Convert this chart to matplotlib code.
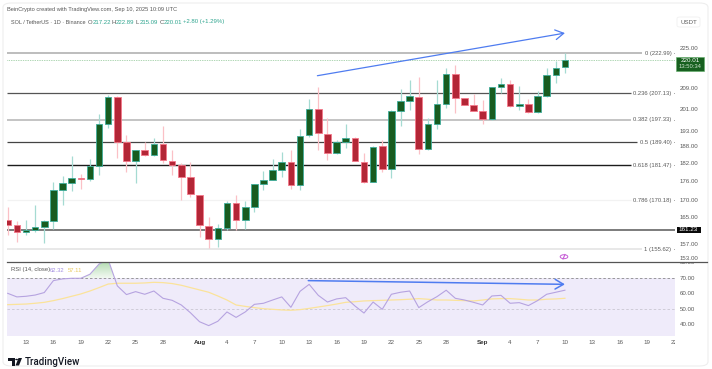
#!/usr/bin/env python3
import numpy as np
import matplotlib
matplotlib.use("Agg")
from matplotlib import pyplot as plt
from matplotlib.patches import Rectangle, FancyBboxPatch, Polygon, Circle
from matplotlib.lines import Line2D
from matplotlib.transforms import Bbox

# daily candles, Jul 11 - Sep 10 2025
opens = [164.3, 162.7, 160.6, 161.1, 162.0, 163.9, 173.5, 175.8, 177.2, 177.0, 181.4,
         195.8, 205.7, 189.3, 182.9, 186.6, 184.8, 188.6, 183.0, 181.5, 177.7,
         171.9, 162.5, 158.4, 161.9, 169.4, 164.1, 168.0, 175.3, 176.7, 179.9, 182.6,
         175.0, 191.7, 201.3, 192.3, 185.6, 189.4, 190.9, 182.7, 176.1, 187.9, 180.2,
         200.6, 204.1, 205.8, 187.1, 195.9, 203.1, 214.4, 205.2, 202.7,
         200.6, 197.4, 209.6, 210.7, 202.4, 203.2, 200.1, 206.2, 214.2, 217.22]
closes = [162.8, 160.6, 161.2, 162.0, 163.8, 173.4, 175.6, 177.2, 177.0, 181.3, 195.8,
          205.6, 189.3, 182.9, 186.6, 184.8, 188.6, 183.2, 181.5, 177.7, 172.2,
          162.6, 158.4, 161.8, 169.4, 164.1, 168.0, 175.3, 176.6, 179.8, 182.6, 175.0,
          191.6, 201.3, 192.4, 185.6, 189.5, 190.9, 182.9, 176.1, 187.8, 180.2, 200.6,
          204.1, 205.9, 187.1, 195.8, 203.0, 214.4, 205.2, 202.7, 200.6,
          197.4, 209.6, 210.8, 202.3, 203.2, 200.1, 206.2, 214.1, 217.0, 220.01]
highs = [168.1, 163.8, 164.1, 168.7, 164.1, 176.0, 178.0, 184.6, 178.6, 183.6, 199.4,
         206.5, 206.0, 191.8, 186.7, 189.5, 190.8, 195.1, 186.6, 182.3, 182.7,
         172.0, 165.1, 162.9, 170.0, 171.8, 170.0, 175.4, 179.6, 183.6, 186.0, 186.6,
         193.9, 204.9, 209.6, 197.8, 190.1, 195.8, 191.0, 185.7, 187.9, 190.1, 200.9,
         208.6, 212.2, 213.5, 197.9, 212.2, 216.8, 218.1, 205.3, 206.9,
         204.6, 209.7, 213.1, 212.2, 210.0, 204.8, 208.1, 217.0, 219.7, 222.89]
lows = [159.7, 157.6, 159.7, 160.6, 157.4, 161.4, 168.7, 173.2, 173.9, 176.4, 178.3,
        194.3, 184.0, 179.3, 175.7, 184.7, 184.7, 182.1, 178.3, 170.3, 171.3,
        159.2, 155.8, 156.3, 161.1, 161.1, 161.4, 166.7, 173.4, 176.6, 177.7, 173.8,
        173.4, 191.2, 186.6, 183.2, 185.3, 187.3, 182.8, 175.6, 176.0, 179.4, 177.3,
        195.2, 200.8, 185.3, 186.6, 194.0, 201.7, 199.8, 202.6, 200.4,
        195.9, 197.2, 207.3, 201.8, 200.8, 199.9, 199.9, 205.8, 210.9, 215.09]

rsi = [60.3, 58.0, 58.4, 59.2, 60.8, 68.5, 69.6, 70.0, 70.0, 72.6, 79.2, 82.0,
       65.1, 59.5, 61.4, 59.7, 61.8, 57.1, 55.8, 52.8, 47.8,
       42.0, 39.5, 42.3, 48.3, 44.8, 48.3, 53.2, 53.9, 56.0, 58.0, 51.3, 61.6, 66.1,
       59.0, 54.7, 56.7, 57.5, 52.2, 47.6, 54.7, 50.0, 59.7, 61.0, 61.8, 51.1, 54.9,
       58.2, 62.3, 57.1, 56.0, 54.5,
       52.8, 58.6, 59.0, 53.9, 54.3, 52.4, 55.6, 59.7, 61.0, 62.32]
rsi_ma = [53.0, 53.2, 53.4, 53.9, 54.5, 55.6, 56.9, 58.4, 59.9, 61.8, 64.0, 66.3,
          66.8, 66.8, 66.8, 67.0, 67.4, 67.2, 66.6, 65.5, 64.0,
          62.5, 61.0, 58.6, 56.0, 52.8, 51.9, 51.1, 50.4, 50.0, 49.6, 49.4, 49.8, 50.6,
          51.5, 52.4, 53.4, 54.5, 54.9, 55.4, 55.6, 55.8, 56.0, 56.2, 56.5, 56.9, 56.5,
          56.0, 56.0, 55.8, 55.6, 55.4,
          56.0, 56.7, 56.9, 56.9, 56.5, 56.0, 56.0, 56.5, 56.7, 57.11]

# fib levels
fib_prices = [222.99, 207.13, 197.33, 189.40, 181.47, 170.18, 155.62]
fib_labels = ["0 (222.99)", "0.236 (207.13)", "0.382 (197.33)", "0.5 (189.40)",
              "0.618 (181.47)", "0.786 (170.18)", "1 (155.62)"]
fib_colors = ["#bdbdbd", "#555555", "#c4c4c4", "#444444", "#1c1c1c", "#f2f2f2", "#e6e6e6"]
fib_widths = [1.4, 0.9, 1.4, 0.9, 1.0, 0.9, 1.3]
fib_ends = [642, 631, 631, 637, 631, 631, 642]

price_ticks = [225, 209, 201, 193, 188, 182, 176, 170, 165, 157, 153]
rsi_ticks = [80, 70, 60, 50, 40]
day_ticks = [2, 5, 8, 11, 14, 17, 21, 24, 27, 30, 33, 36, 39, 42, 45, 48, 52, 55, 58, 61,
             64, 67, 70, 73]
day_labels = ["13", "16", "19", "22", "25", "28", "Aug", "4", "7", "10", "13", "16", "19",
              "22", "25", "28", "Sep", "4", "7", "10", "13", "16", "19", "22"]

trend_price_x = [33.9, 61.0]
trend_price_y = [213.9, 231.3]
trend_rsi_x = [32.9, 61.0]
trend_rsi_y = [68.5, 66.1]

W, H = 712, 369
UP, UP_EDGE, UP_WICK = "#185c20", "#3fae9c", "#a5dbd2"
DN, DN_EDGE, DN_WICK = "#b32636", "#f4788a", "#fbc0c6"
GREY = "#5a5a5a"
ARROW = "->,head_length=0.6,head_width=0.35"
plt.rcParams["font.family"] = "Liberation Sans"


def fx(px):
    return px / W


def fy(py):
    return 1 - py / H


def pane(left, top, right, bottom):
    return fig.add_axes([fx(left), fy(bottom), fx(right - left), (bottom - top) / H])


fig = plt.figure(figsize=(W / 100, H / 100), dpi=100, facecolor="white")
fig.patches.append(FancyBboxPatch((fx(3), fy(366)), fx(705), 363 / H,
                                  boxstyle="round,pad=0,rounding_size=0.012",
                                  transform=fig.transFigure, fc="white", ec="#eeeeee",
                                  lw=0.8, zorder=-1))

ax = pane(7, 15, 675, 262.3)
rx = pane(7, 262.3, 675, 335.7)
x = np.arange(len(opens))
x0, x1 = -0.08, 73.05

# price pane
ax.set_yscale("log")
ax.set_xlim(x0, x1)
ax.set_ylim(151.9, 239.1)
for s in ax.spines.values():
    s.set_visible(False)
ax.set_xticks([])
ax.set_yticks([])
ax.set_yticks([], minor=True)

for i, (o, c, h, l) in enumerate(zip(opens, closes, highs, lows)):
    up = c >= o
    ax.vlines(i, l, h, color=UP_WICK if up else DN_WICK, lw=0.9, zorder=2)
    ax.bar(i, abs(c - o), bottom=min(o, c), width=0.72, color=UP if up else DN,
           edgecolor=UP_EDGE if up else DN_EDGE, lw=0.6, zorder=3)

to_y = ax.get_yaxis_transform()
for p, lab, col, lw, end in zip(fib_prices, fib_labels, fib_colors, fib_widths, fib_ends):
    ax.plot([0, (end - 7) / 668], [p, p], color=col, lw=lw, transform=to_y, zorder=1,
            solid_capstyle="butt")
    ax.text((671.5 - 7) / 668, p, lab, transform=to_y, ha="right", va="center",
            fontsize=4.2, color=GREY)
    ax.plot([(674 - 7) / 668, 1], [p, p], color="#777777", lw=0.5, transform=to_y)

ax.axhline(161.23, color="#7c7c7c", lw=1.4, zorder=1)
ax.axhline(220.01, color="#5fae68", lw=0.5, ls=(0, (1, 1.5)), zorder=1)

ax.annotate("", xy=(trend_price_x[1], trend_price_y[1]),
            xytext=(trend_price_x[0], trend_price_y[0]),
            arrowprops=dict(arrowstyle=ARROW, color="#4f7cf0", lw=0.9, shrinkA=0, shrinkB=0),
            zorder=5)

# rsi pane
rx.set_xlim(x0, x1)
rx.set_ylim(33, 80.3)
for s in rx.spines.values():
    s.set_visible(False)
rx.axhspan(33, 70, color="#efebfa", lw=0, zorder=0)
rx.axhline(70, color="#8a8a8a", lw=0.6, ls=(0, (3, 2.5)), zorder=1)
rx.axhline(50, color="#c9c6d2", lw=0.6, ls=(0, (3, 2.5)), zorder=1)
fill = rx.fill_between(x, 70, rsi, where=np.array(rsi) > 70, interpolate=True,
                       color="none", lw=0, zorder=1)
grad = np.linspace(0, 1, 40).reshape(-1, 1)
grad_img = rx.imshow(grad, extent=(x0, x1, 70, 80.3), origin="lower", aspect="auto",
                     cmap=matplotlib.colors.LinearSegmentedColormap.from_list(
                         "g", ["#f2f9f1", "#b5dcb4"]), zorder=1)
grad_img.set_clip_path(fill.get_paths()[0], fill.get_transform())
rx.set_xlim(x0, x1)
rx.set_ylim(33, 80.3)
rx.plot(x, rsi_ma, color="#fbe39a", lw=0.9, zorder=2)
rx.plot(x, rsi, color="#b6a3e0", lw=0.8, zorder=3)
rx.annotate("", xy=(trend_rsi_x[1], trend_rsi_y[1]), xytext=(trend_rsi_x[0], trend_rsi_y[0]),
            arrowprops=dict(arrowstyle=ARROW, color="#4f7cf0", lw=1.1, shrinkA=0, shrinkB=0),
            zorder=5)

rx.set_yticks([])
rx.set_xticks(day_ticks)
rx.set_xticklabels(day_labels, fontsize=4.5, color=GREY)
rx.tick_params(axis="x", length=0, pad=2.8)
for lab, txt in zip(rx.get_xticklabels(), day_labels):
    if txt in ("Aug", "Sep"):
        lab.set_fontweight("bold")
        lab.set_color("#333333")
    lab.set_clip_on(True)
    lab.set_clip_box(Bbox([[0, 0], [675, H]]))

# right hand scale
for t in price_ticks:
    py = 53 + 545 * np.log(222.99 / t)
    fig.text(fx(680), fy(py), f"{t:.2f}", fontsize=4.4, color=GREY, va="center", ha="left")
for t in rsi_ticks:
    py = 278.3 + (70 - t) * 1.55
    lab = fig.text(fx(680), fy(py), f"{t:.2f}", fontsize=4.4, color=GREY, va="center", ha="left")
    # top label is cut by the pane separator
    lab.set_clip_on(True)
    lab.set_clip_box(Bbox([[0, 0], [W, H - 262.5]]))

fig.patches.append(FancyBboxPatch((fx(677), fy(27)), fx(23), 10 / H,
                                  boxstyle="round,pad=0,rounding_size=0.004",
                                  transform=fig.transFigure, fc="white", ec="#f0f0f0", lw=0.6))
fig.text(fx(688.5), fy(22.2), "USDT", fontsize=4.4, color=GREY, ha="center", va="center")

fig.patches.append(Rectangle((fx(676), fy(70.5)), fx(27.5), 13.5 / H, transform=fig.transFigure,
                             fc="#17601f", ec="#5fae68", lw=0.4))
fig.text(fx(690), fy(60.5), "220.01", fontsize=4.5, color="white", ha="center", va="center")
fig.text(fx(690), fy(66.8), "13:50:34", fontsize=4.2, color="#cfe3d0", ha="center", va="center")
fig.patches.append(Rectangle((fx(676.5), fy(233)), fx(24), 6.5 / H, transform=fig.transFigure,
                             fc="#0a0a0a", ec="none"))
fig.text(fx(688.5), fy(229.8), "161.23", fontsize=4.5, color="white", ha="center", va="center")

# pane separator
fig.add_artist(Line2D([fx(7), fx(707)], [fy(262.3), fy(262.3)], color="#555555", lw=0.9))

# earnings style badge
fig.add_artist(Circle((fx(564), fy(256.7)), 3.8 / W, transform=fig.transFigure,
                      fc="white", ec="#c65bd6", lw=0.7))
fig.add_artist(Line2D([fx(563), fx(565)], [fy(259), fy(254.5)], color="#c65bd6", lw=0.8))

# header texts
fig.text(fx(7.3), fy(10), "BeinCrypto created with TradingView.com, Sep 10, 2025 10:09 UTC",
         fontsize=4.1, color="#555555", va="center")
fig.text(fx(11), fy(22), "SOL / TetherUS · 1D · Binance", fontsize=3.95, color="#555555",
         va="center")
head_x = [88, 92.7, 111.5, 115.7, 136, 139.3, 159.3, 163.3, 183]
head_t = ["O", "217.22", "H", "222.89", "L", "215.09", "C", "220.01", "+2.80 (+1.29%)"]
for hx, ht in zip(head_x, head_t):
    dark = ht in ("O", "H", "L", "C")
    fig.text(fx(hx), fy(22), ht, fontsize=4.3, color="#555555" if dark else "#2fa58f",
             va="center")
fig.text(fx(11), fy(270), "RSI (14, close)", fontsize=4.2, color="#555555", va="center")
fig.text(fx(50), fy(270), "62.32", fontsize=4.2, color="#a48fe0", va="center")
fig.text(fx(68), fy(270), "57.11", fontsize=4.2, color="#e9c95f", va="center")

# TradingView logo
for pts in [[(8, 358), (15, 358), (15, 365.5), (11.5, 365.5), (11.5, 361), (8, 361)],
            [(18.5, 358), (22, 358), (19, 365.5), (15.5, 365.5)]]:
    fig.add_artist(Polygon([(fx(a), fy(b)) for a, b in pts], closed=True,
                           transform=fig.transFigure, fc="#131722", ec="none"))
fig.add_artist(Circle((fx(16.6), fy(359.5)), 1.4 / W, transform=fig.transFigure,
                      fc="#131722", ec="none"))
fig.text(fx(25), fy(361.7), "TradingView", fontsize=7, color="#131722", va="center",
         fontweight="medium", family="Roboto")

fig.savefig("out.png", dpi=100, facecolor="white")
